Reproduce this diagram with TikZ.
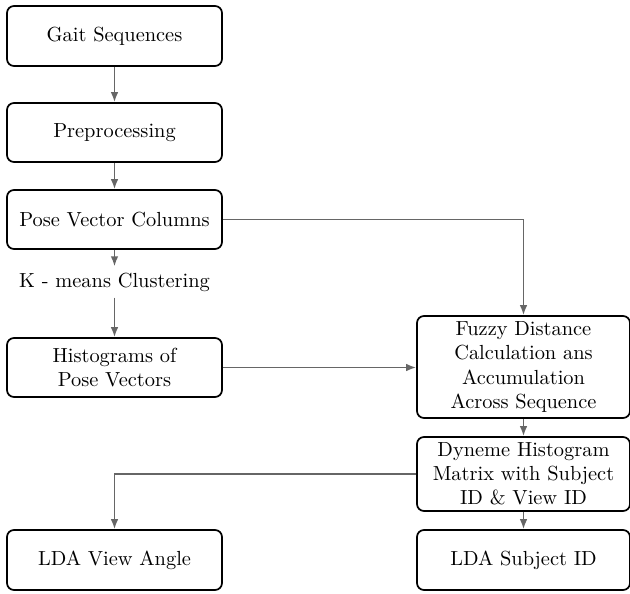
\documentclass[tikz,border=0pt]{standalone}
\usetikzlibrary{arrows.meta}
\begin{document}
\begin{tikzpicture}[x=0.5pt,y=-0.5pt,
  box/.style={draw=black,line width=0.85pt,rounded corners=3.5pt,align=center,inner sep=2pt,font=\fontsize{10.2}{12.1}\selectfont},
  lbox/.style={box,minimum width=107.5pt},
  rbox/.style={box,minimum width=106.5pt},
  conn/.style={draw=black!60,line width=0.8pt,-{Latex[length=5pt,width=3.8pt]}}]
\useasboundingbox (0,0) rectangle (630,593);
\node[lbox,minimum height=30pt] (gait) at (114.5,36) {Gait Sequences};
\node[lbox,minimum height=29.5pt] (prep) at (114.5,132.5) {Preprocessing};
\node[lbox,minimum height=29.5pt] (pose) at (114.5,219.5) {Pose Vector Columns};
\node[inner sep=3pt,font=\fontsize{10.2}{12.1}\selectfont] (km) at (114.5,282) {K - means Clustering};
\node[lbox,minimum height=29.5pt] (hist) at (114.5,367.5) {Histograms of\\Pose Vectors};
\node[lbox,minimum height=30pt] (ldav) at (114.5,560) {LDA View Angle};
\node[rbox,minimum height=51pt] (fuzzy) at (523.5,367) {Fuzzy Distance\\Calculation ans\\Accumulation\\Across Sequence};
\node[rbox,minimum height=37pt] (dyn) at (523.5,474) {Dyneme Histogram\\Matrix with Subject\\ID \& View ID};
\node[rbox,minimum height=30pt] (ldas) at (523.5,560) {LDA Subject ID};
\draw[conn] (gait) -- (prep);
\draw[conn] (prep) -- (pose);
\draw[conn] (pose) -- (km);
\draw[conn] (km) -- (hist);
\draw[conn] (pose.east) -| (fuzzy.north);
\draw[conn] (hist.east) -- (hist.east -| fuzzy.west);
\draw[conn] (fuzzy) -- (dyn);
\draw[conn] (dyn) -- (ldas);
\draw[conn] (dyn.west) -| (ldav.north);
\end{tikzpicture}
\end{document}
